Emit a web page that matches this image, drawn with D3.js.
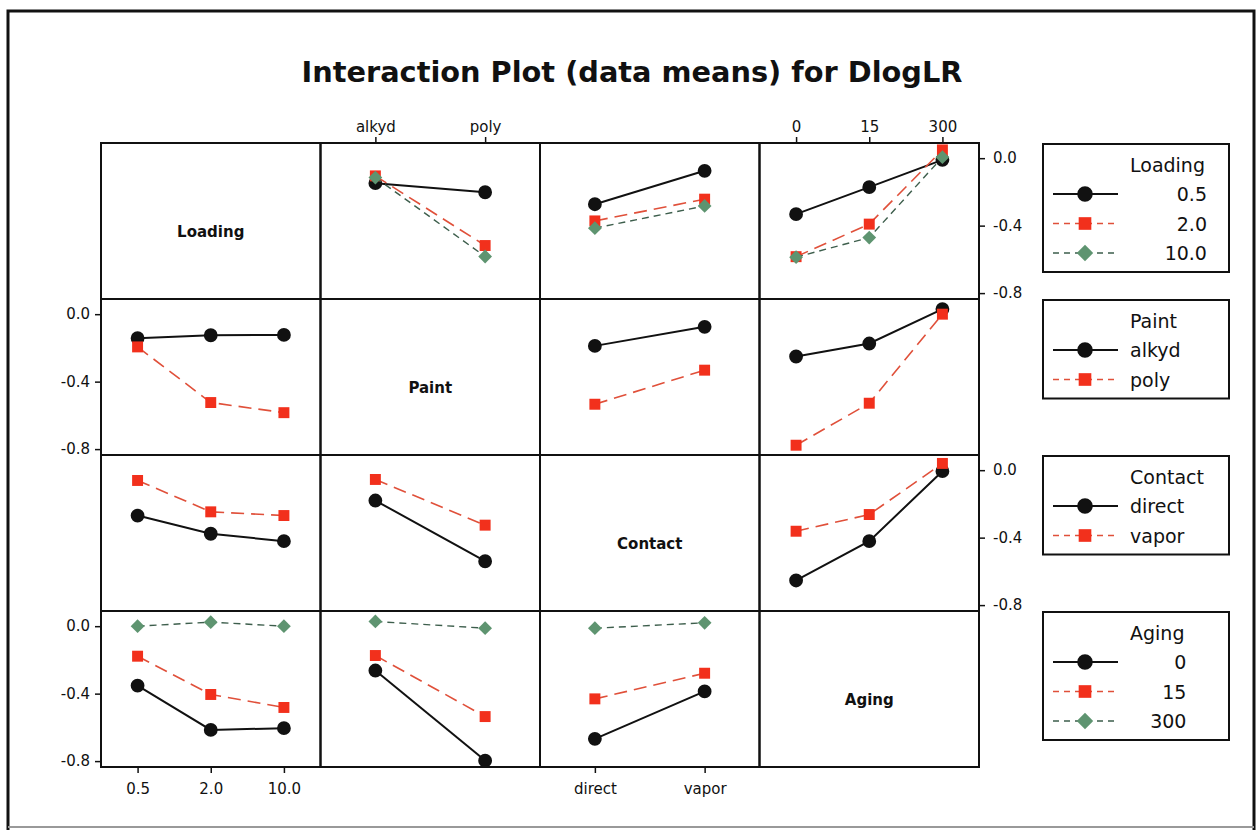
<!DOCTYPE html>
<html>
<head>
<meta charset="utf-8">
<script src="https://cdn.jsdelivr.net/npm/d3@7"></script>
<style>
  body { margin: 0; background: #fff; }
  text { font-family: "DejaVu Sans", Verdana, sans-serif; fill: #111; }
</style>
</head>
<body>
<div id="chart"></div>
<script>
// factor levels
const factors = ["Loading", "Paint", "Contact", "Aging"];
const loadingLevels = ["0.5", "2.0", "10.0"];
const paintLevels = ["alkyd", "poly"];
const contactLevels = ["direct", "vapor"];
const agingLevels = ["0", "15", "300"];
const levelsOf = [loadingLevels, paintLevels, contactLevels, agingLevels];
const yTicks = [0.0, -0.4, -0.8];

// means of DlogLR: one row per level of the row factor, values along the column factor
const loadingByPaint = [[-0.148, -0.202], [-0.105, -0.518], [-0.115, -0.583]];
const loadingByContact = [[-0.273, -0.075], [-0.372, -0.243], [-0.415, -0.283]];
const loadingByAging = [[-0.332, -0.172, -0.01], [-0.584, -0.391, 0.049], [-0.587, -0.471, 0.006]];
const paintByLoading = [[-0.142, -0.125, -0.123], [-0.194, -0.524, -0.584]];
const paintByContact = [[-0.188, -0.075], [-0.534, -0.332]];
const paintByAging = [[-0.251, -0.174, 0.03], [-0.777, -0.528, 0.0]];
const contactByLoading = [[-0.269, -0.377, -0.421], [-0.061, -0.247, -0.269]];
const contactByPaint = [[-0.180, -0.540], [-0.055, -0.326]];
const contactByAging = [[-0.654, -0.421, -0.006], [-0.362, -0.263, 0.04]];
const agingByLoading = [[-0.352, -0.615, -0.605], [-0.178, -0.405, -0.482], [0.0, 0.024, 0.0]];
const agingByPaint = [[-0.263, -0.797], [-0.174, -0.536], [0.028, -0.012]];
const agingByContact = [[-0.668, -0.387], [-0.431, -0.279], [-0.012, 0.02]];

const cells = [
  [null, loadingByPaint, loadingByContact, loadingByAging],
  [paintByLoading, null, paintByContact, paintByAging],
  [contactByLoading, contactByPaint, null, contactByAging],
  [agingByLoading, agingByPaint, agingByContact, null]
];

const width = 1257, height = 830;
const gridX = 101, gridY = 143, cellW = 219.5, cellH = 156;

// the third series is a square turned 45 degrees
const series = [
  { line: "#111", dash: null, fill: "#111", shape: d3.symbolCircle, size: 150, rot: 0, lw: 2 },
  { line: "#e0503a", dash: "13,7", fill: "#f2301c", shape: d3.symbolSquare, size: 120, rot: 0, lw: 1.6 },
  { line: "#3d5e4c", dash: "7,5", fill: "#5e9470", shape: d3.symbolSquare, size: 95, rot: 45, lw: 1.4 }
];

const svg = d3.select("#chart").append("svg")
  .attr("width", width)
  .attr("height", height);

// outer frame
svg.append("path")
  .attr("d", "M8,830 V11 H1254 V830")
  .attr("fill", "none").attr("stroke", "#111").attr("stroke-width", 3);
svg.append("line")
  .attr("x1", 8).attr("x2", 1254).attr("y1", 827).attr("y2", 827)
  .attr("stroke", "#999").attr("stroke-width", 2);

svg.append("text")
  .attr("x", 632).attr("y", 82)
  .attr("text-anchor", "middle")
  .attr("font-size", 28).attr("font-weight", "bold")
  .attr("textLength", 661).attr("lengthAdjust", "spacingAndGlyphs")
  .text("Interaction Plot (data means) for DlogLR");

const xScales = levelsOf.map((lv, j) => d3.scalePoint()
  .domain(lv)
  .range([gridX + j * cellW, gridX + (j + 1) * cellW])
  .padding(0.5));
const yScales = factors.map((f, i) => d3.scaleLinear()
  .domain([-0.835, 0.09])
  .range([gridY + (i + 1) * cellH, gridY + i * cellH]));

const fmt = d => d.toFixed(1);

factors.forEach((rowF, i) => {
  factors.forEach((colF, j) => {
    const x0 = gridX + j * cellW, y0 = gridY + i * cellH;
    const g = svg.append("g");
    g.append("rect")
      .attr("x", x0).attr("y", y0).attr("width", cellW).attr("height", cellH)
      .attr("fill", "none").attr("stroke", "#111").attr("stroke-width", 2);
    if (i === j) {
      g.append("text")
        .attr("x", x0 + cellW / 2).attr("y", y0 + cellH / 2 + 16)
        .attr("text-anchor", "middle")
        .attr("font-size", 15).attr("font-weight", "bold")
        .text(rowF);
      return;
    }
    const x = xScales[j], y = yScales[i];
    const line = d3.line().x((d, k) => x(levelsOf[j][k])).y(d => y(d));
    cells[i][j].forEach((vals, s) => {
      const st = series[s];
      g.append("path")
        .datum(vals)
        .attr("d", line)
        .attr("fill", "none")
        .attr("stroke", st.line)
        .attr("stroke-width", st.lw)
        .attr("stroke-dasharray", st.dash);
      g.selectAll(null)
        .data(vals)
        .join("path")
        .attr("transform", (d, k) => `translate(${x(levelsOf[j][k])},${y(d)}) rotate(${st.rot})`)
        .attr("d", d3.symbol(st.shape, st.size))
        .attr("fill", st.fill);
    });
  });
});

// axes around the matrix
function styleAxis(sel) {
  sel.select(".domain").remove();
  sel.selectAll("line").attr("stroke", "#111").attr("stroke-width", 1.5);
  sel.selectAll("text").attr("font-size", 15).attr("fill", "#111")
    .style("font-family", "'DejaVu Sans', Verdana, sans-serif");
}
[1, 3].forEach(j => {
  svg.append("g").attr("transform", `translate(0,${gridY})`)
    .call(d3.axisTop(xScales[j]).tickSize(6).tickPadding(5))
    .call(styleAxis);
});
[0, 2].forEach(j => {
  svg.append("g").attr("transform", `translate(0,${gridY + 4 * cellH})`)
    .call(d3.axisBottom(xScales[j]).tickSize(6).tickPadding(10))
    .call(styleAxis);
});
[1, 3].forEach(i => {
  svg.append("g").attr("transform", `translate(${gridX},0)`)
    .call(d3.axisLeft(yScales[i]).tickValues(yTicks).tickFormat(fmt).tickSize(6).tickPadding(5))
    .call(styleAxis);
});
[0, 2].forEach(i => {
  svg.append("g").attr("transform", `translate(${gridX + 4 * cellW},0)`)
    .call(d3.axisRight(yScales[i]).tickValues(yTicks).tickFormat(fmt).tickSize(6).tickPadding(8))
    .call(styleAxis);
});

// legends, one per row factor
const legX = 1043, legW = 186, titleX = 1130;
factors.forEach((f, i) => {
  const top = gridY + i * cellH + 1;
  const lv = levelsOf[i];
  const lg = svg.append("g");
  const bottom = top + 50 + 29.5 * (lv.length - 1) + 19;
  lg.append("rect")
    .attr("x", legX).attr("y", top).attr("width", legW).attr("height", bottom - top)
    .attr("fill", "#fff").attr("stroke", "#111").attr("stroke-width", 2);
  const title = lg.append("text")
    .attr("x", titleX).attr("y", top + 28)
    .attr("font-size", 19)
    .text(f);
  const numeric = lv.every(v => !isNaN(+v));
  const titleEnd = titleX + title.node().getComputedTextLength();
  lv.forEach((v, s) => {
    const cy = top + 50 + 29.5 * s;
    const st = series[s];
    lg.append("line")
      .attr("x1", 1053).attr("x2", 1118).attr("y1", cy).attr("y2", cy)
      .attr("stroke", st.line).attr("stroke-width", st.lw)
      .attr("stroke-dasharray", st.dash ? "6,5" : null);
    lg.append("path")
      .attr("transform", `translate(1085,${cy}) rotate(${st.rot})`)
      .attr("d", d3.symbol(st.shape, st.size + 40))
      .attr("fill", st.fill);
    lg.append("text")
      .attr("x", numeric ? titleEnd + 2 : titleX)
      .attr("y", cy + 7)
      .attr("text-anchor", numeric ? "end" : "start")
      .attr("font-size", 19)
      .text(v);
  });
});
</script>
</body>
</html>
